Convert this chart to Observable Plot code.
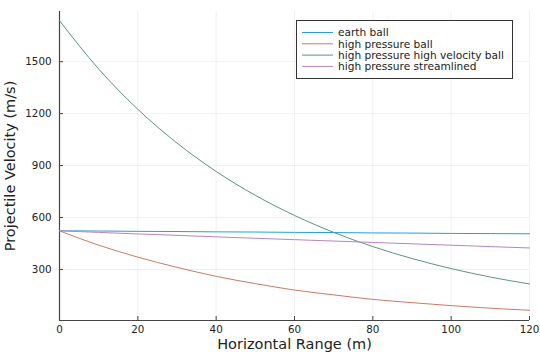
<!DOCTYPE html>
<html><head><meta charset="utf-8">
<script src="https://cdn.jsdelivr.net/npm/d3@7"></script>
<script src="https://cdn.jsdelivr.net/npm/@observablehq/plot@0.6"></script>
<style>body{margin:0;background:#fff}</style>
</head><body><div id="chart"></div>
<script>
const xs = [0, 10, 20, 30, 40, 50, 60, 70, 80, 90, 100, 110, 120];
const earthBall = [523, 522, 520, 519, 517, 516, 514, 513, 511, 510, 508, 507, 506];
const highPressureBall = [523, 440, 371, 312, 260, 218, 181, 153, 127, 108, 91, 76, 64];
const highVelocityBall = [1737, 1458, 1225, 1030, 866, 728, 612, 514, 432, 363, 305, 256, 216];
const streamlined = [523, 514, 505, 497, 488, 480, 472, 464, 456, 448, 440, 432, 424];
const seriesNames = ["earth ball", "high pressure ball", "high pressure high velocity ball", "high pressure streamlined"];
const seriesColors = ["#2a9fd6", "#cc7a62", "#5c957a", "#b884c4"];
const xTicks = [0, 20, 40, 60, 80, 100, 120];
const yTicks = [300, 600, 900, 1200, 1500];
const xLabel = "Horizontal Range (m)";
const yLabel = "Projectile Velocity (m/s)";

const allSeries = [earthBall, highPressureBall, highVelocityBall, streamlined];
const data = allSeries.flatMap((vals, i) => vals.map((v, j) => ({x: xs[j], y: v, s: seriesNames[i]})));

const chart = Plot.plot({
  width: 540, height: 360,
  marginLeft: 59, marginRight: 11, marginTop: 11, marginBottom: 40,
  style: {fontFamily: "DejaVu Sans", fontSize: "10.3px", background: "white", color: "#222"},
  x: {domain: [0, 120]},
  y: {domain: [5, 1790]},
  color: {domain: seriesNames, range: seriesColors},
  marks: [
    Plot.gridX(xTicks, {stroke: "#000", strokeOpacity: 0.1, strokeWidth: 0.6}),
    Plot.gridY(yTicks, {stroke: "#000", strokeOpacity: 0.1, strokeWidth: 0.6}),
    Plot.axisX(xTicks, {tickSize: 0, tickPadding: 5, label: null, tickFormat: d3.format("d")}),
    Plot.axisY(yTicks, {tickSize: 0, tickPadding: 8, label: null, tickFormat: d3.format("d")}),
    Plot.tickX(xTicks, {x: d => d, insetTop: 305, stroke: "#444"}),
    Plot.tickY(yTicks, {y: d => d, insetRight: 466, stroke: "#444"}),
    Plot.ruleX([0], {stroke: "#444", strokeWidth: 1.2}),
    Plot.ruleY([5], {stroke: "#444", strokeWidth: 1.2}),
    Plot.line(data, {x: "x", y: "y", z: "s", stroke: "s", strokeWidth: 1, curve: "monotone-x"}),
    Plot.text([xLabel], {frameAnchor: "bottom", dy: 28, fontSize: 14.5, fill: "#222"}),
    Plot.text([yLabel], {frameAnchor: "left", textAnchor: "middle", dx: -49, dy: 0, rotate: -90, fontSize: 14.5, fill: "#222"})
  ]
});

// legend
const svg = d3.select(chart);
const lg = svg.append("g").attr("font-family", "DejaVu Sans").attr("font-size", 10.6).attr("text-anchor", "start");
lg.append("rect").attr("x", 296.5).attr("y", 20.5).attr("width", 216).attr("height", 58)
  .attr("fill", "white").attr("stroke", "#333").attr("stroke-width", 1);
seriesNames.forEach((name, i) => {
  const cy = 32.5 + i * 11.3;
  lg.append("line").attr("x1", 302).attr("x2", 333).attr("y1", cy).attr("y2", cy)
    .attr("stroke", seriesColors[i]).attr("stroke-width", 1);
  lg.append("text").attr("x", 338).attr("y", cy).attr("dy", "0.35em").attr("fill", "#222").text(name);
});

document.getElementById("chart").appendChild(chart);
</script>
</body></html>
